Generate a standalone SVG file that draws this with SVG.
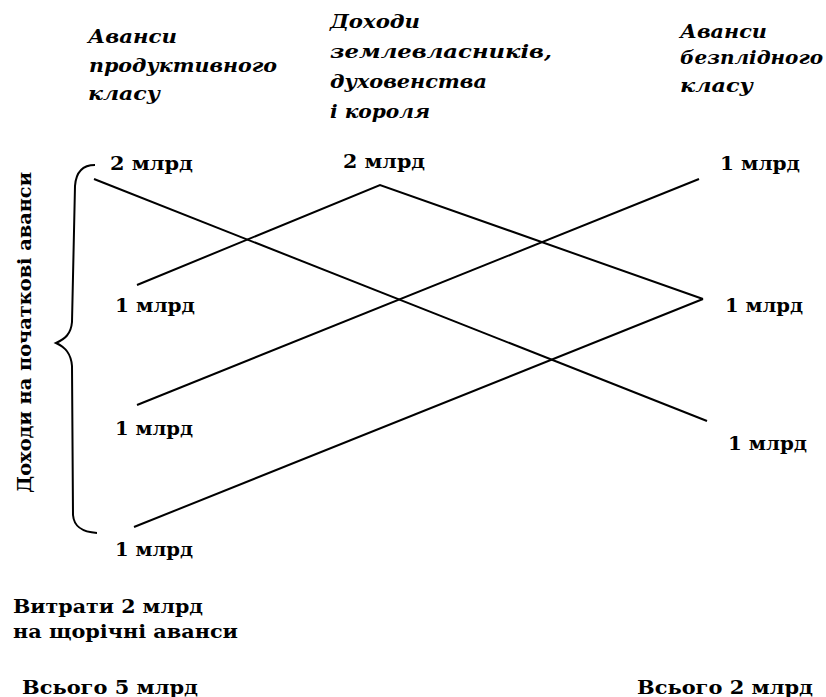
<svg xmlns="http://www.w3.org/2000/svg" width="826" height="697" viewBox="0 0 826 697">
<style>
.hd{font-family:"DejaVu Serif","Liberation Serif",serif;font-weight:bold;font-style:italic;font-size:18px;fill:#000}
.lb{font-family:"DejaVu Serif","Liberation Serif",serif;font-weight:bold;font-size:18px;fill:#000}
.ln{stroke:#000;stroke-width:2;fill:none}
</style>
<rect width="826" height="697" fill="#fff"/>
<g id="header-productive">
<text class="hd" x="88" y="43" textLength="89" lengthAdjust="spacingAndGlyphs">Аванси</text>
<text class="hd" x="89" y="72" textLength="188" lengthAdjust="spacingAndGlyphs">продуктивного</text>
<text class="hd" x="88" y="100" textLength="72" lengthAdjust="spacingAndGlyphs">класу</text>
</g>
<g id="header-landowners">
<text class="hd" x="330" y="28" textLength="90" lengthAdjust="spacingAndGlyphs">Доходи</text>
<text class="hd" x="330" y="58" textLength="222" lengthAdjust="spacingAndGlyphs">землевласників,</text>
<text class="hd" x="330" y="88" textLength="157" lengthAdjust="spacingAndGlyphs">духовенства</text>
<text class="hd" x="330" y="118" textLength="100" lengthAdjust="spacingAndGlyphs">і короля</text>
</g>
<g id="header-sterile">
<text class="hd" x="680" y="38" textLength="87" lengthAdjust="spacingAndGlyphs">Аванси</text>
<text class="hd" x="680" y="64" textLength="143" lengthAdjust="spacingAndGlyphs">безплідного</text>
<text class="hd" x="680" y="92" textLength="73" lengthAdjust="spacingAndGlyphs">класу</text>
</g>
<g id="side-label">
<text class="lb" transform="translate(31,493) rotate(-90)" textLength="321" lengthAdjust="spacingAndGlyphs">Доходи на початкові аванси</text>
<path class="ln" d="M95,165 C82,165 76,172 75,186 L72,322 C71,334 65,339 56,343 C65,347 71,353 72,366 L73,515 C74,527 82,532 97,533"/>
</g>
<g id="p-top"><text class="lb" x="110" y="170" textLength="83" lengthAdjust="spacingAndGlyphs">2 млрд</text></g>
<g id="l-top"><text class="lb" x="343" y="168" textLength="82" lengthAdjust="spacingAndGlyphs">2 млрд</text></g>
<g id="s-top"><text class="lb" x="720" y="170" textLength="80" lengthAdjust="spacingAndGlyphs">1 млрд</text></g>
<g id="p-1"><text class="lb" x="115" y="312" textLength="80" lengthAdjust="spacingAndGlyphs">1 млрд</text></g>
<g id="s-1"><text class="lb" x="725" y="312" textLength="78" lengthAdjust="spacingAndGlyphs">1 млрд</text></g>
<g id="p-2"><text class="lb" x="115" y="435" textLength="78" lengthAdjust="spacingAndGlyphs">1 млрд</text></g>
<g id="s-2"><text class="lb" x="728" y="450" textLength="79" lengthAdjust="spacingAndGlyphs">1 млрд</text></g>
<g id="p-3"><text class="lb" x="115" y="556" textLength="78" lengthAdjust="spacingAndGlyphs">1 млрд</text></g>
<g id="costs">
<text class="lb" x="13" y="613" textLength="190" lengthAdjust="spacingAndGlyphs">Витрати 2 млрд</text>
<text class="lb" x="13" y="638" textLength="225" lengthAdjust="spacingAndGlyphs">на щорічні аванси</text>
</g>
<g id="total-left"><text class="lb" x="22" y="694" textLength="176" lengthAdjust="spacingAndGlyphs">Всього  5 млрд</text></g>
<g id="total-right"><text class="lb" x="637" y="694" textLength="176" lengthAdjust="spacingAndGlyphs">Всього  2 млрд</text></g>
<g id="connectors">
<line class="ln" x1="94" y1="179" x2="707" y2="421"/>
<polyline class="ln" points="137,285 380,185 703,299"/>
<line class="ln" x1="137" y1="405" x2="699" y2="179"/>
<line class="ln" x1="134" y1="527" x2="703" y2="299"/>
</g>
</svg>
